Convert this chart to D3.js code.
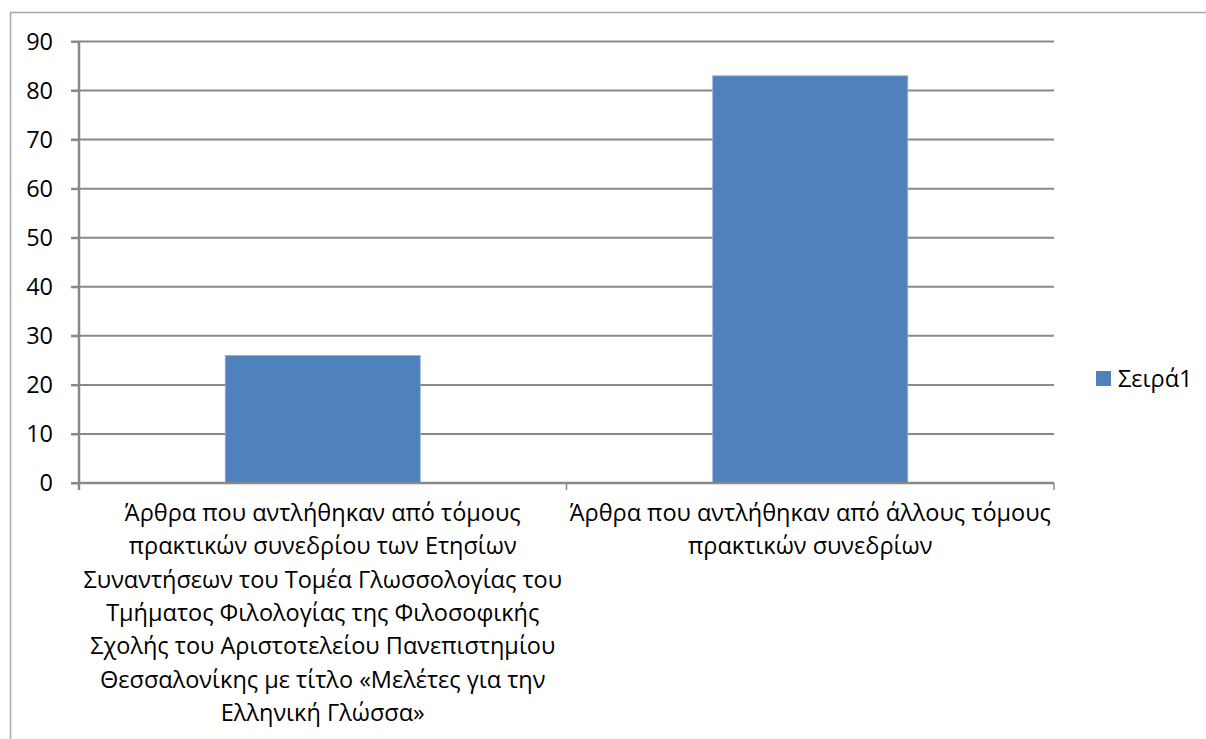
<!DOCTYPE html>
<html>
<head>
<meta charset="utf-8">
<script src="https://cdn.jsdelivr.net/npm/d3@7"></script>
<style>
  html, body { margin: 0; padding: 0; background: #fff; }
  svg { display: block; }
  text { font-family: "Open Sans", "Noto Sans", sans-serif; fill: #000; }
</style>
</head>
<body>
<svg id="chart" width="1206" height="739"></svg>
<script>
// Article counts by source of the proceedings volumes
const categories = ["cat1", "cat2"];
const categoryLabels = [
  [
    "Άρθρα που αντλήθηκαν από τόμους",
    "πρακτικών συνεδρίου των Ετησίων",
    "Συναντήσεων του Τομέα Γλωσσολογίας του",
    "Τμήματος Φιλολογίας της Φιλοσοφικής",
    "Σχολής του Αριστοτελείου Πανεπιστημίου",
    "Θεσσαλονίκης με τίτλο «Μελέτες για την",
    "Ελληνική Γλώσσα»"
  ],
  [
    "Άρθρα που αντλήθηκαν από άλλους τόμους",
    "πρακτικών συνεδρίων"
  ]
];
const values = [26, 83];
const seriesName = "Σειρά1";
const yTicks = [0, 10, 20, 30, 40, 50, 60, 70, 80, 90];

const svg = d3.select("#chart");
const plot = { left: 79, right: 1054, top: 41.5, bottom: 483 };
const gridColor = "#898989";
const barColor = "#4f81bd";
const fontSize = 23.5;

// Outer chart frame (runs off the right and bottom edges)
svg.append("rect")
  .attr("x", 10.5).attr("y", 12.5)
  .attr("width", 1210).attr("height", 740)
  .attr("fill", "none").attr("stroke", "#a6a6a6").attr("stroke-width", 1.5);

const x = d3.scaleBand()
  .domain(categories)
  .range([plot.left, plot.right])
  .paddingInner(0.6)
  .paddingOuter(0.3);

const y = d3.scaleLinear()
  .domain([0, 90])
  .range([plot.bottom, plot.top]);

// Horizontal gridlines, including short ticks left of the axis
svg.append("g").selectAll("line")
  .data(yTicks)
  .join("line")
  .attr("x1", plot.left - 8).attr("x2", plot.right)
  .attr("y1", d => y(d)).attr("y2", d => y(d))
  .attr("stroke", gridColor).attr("stroke-width", 2);

// Y axis labels via d3 axis
const yAxis = svg.append("g")
  .attr("transform", `translate(${plot.left},0)`)
  .call(d3.axisLeft(y).tickValues(yTicks).tickSize(8).tickPadding(18));
yAxis.select(".domain").remove();
yAxis.selectAll(".tick line").attr("stroke", gridColor).attr("stroke-width", 2);
yAxis.selectAll(".tick text")
  .style("font-family", '"Open Sans", "Noto Sans", sans-serif')
  .style("font-size", fontSize + "px")
  .attr("fill", "#000");

// Bars
svg.append("g").selectAll("rect")
  .data(values)
  .join("rect")
  .attr("x", (d, i) => x(categories[i]))
  .attr("y", d => y(d))
  .attr("width", x.bandwidth())
  .attr("height", d => y(0) - y(d))
  .attr("fill", barColor)
  .attr("stroke", "#8fb0d8")
  .attr("stroke-width", 0.8);

// Vertical axis line
svg.append("line")
  .attr("x1", plot.left).attr("x2", plot.left)
  .attr("y1", plot.top).attr("y2", plot.bottom + 7)
  .attr("stroke", gridColor).attr("stroke-width", 2.5);

// Horizontal axis line and category boundary ticks
svg.append("line")
  .attr("x1", plot.left).attr("x2", plot.right)
  .attr("y1", plot.bottom).attr("y2", plot.bottom)
  .attr("stroke", gridColor).attr("stroke-width", 2.5);

const step = x.step();
const boundaries = d3.range(categories.length + 1).map(i => plot.left + i * step);
svg.append("g").selectAll("line")
  .data(boundaries)
  .join("line")
  .attr("x1", d => d).attr("x2", d => d)
  .attr("y1", plot.bottom).attr("y2", plot.bottom + 7)
  .attr("stroke", gridColor).attr("stroke-width", 1.5);

// Category labels, wrapped onto several centred lines
const lineGap = 33.3;
categoryLabels.forEach((lines, i) => {
  const cx = x(categories[i]) + x.bandwidth() / 2;
  const t = svg.append("text")
    .attr("text-anchor", "middle")
    .attr("font-size", fontSize)
    .attr("y", 521);
  lines.forEach((ln, j) => {
    t.append("tspan").attr("x", cx).attr("dy", j === 0 ? 0 : lineGap).text(ln);
  });
});

// Legend
const legend = svg.append("g").attr("transform", "translate(1096,371)");
legend.append("rect").attr("width", 15).attr("height", 15).attr("fill", barColor);
legend.append("text").attr("x", 22).attr("y", 16).attr("font-size", fontSize).text(seriesName);
</script>
</body>
</html>
